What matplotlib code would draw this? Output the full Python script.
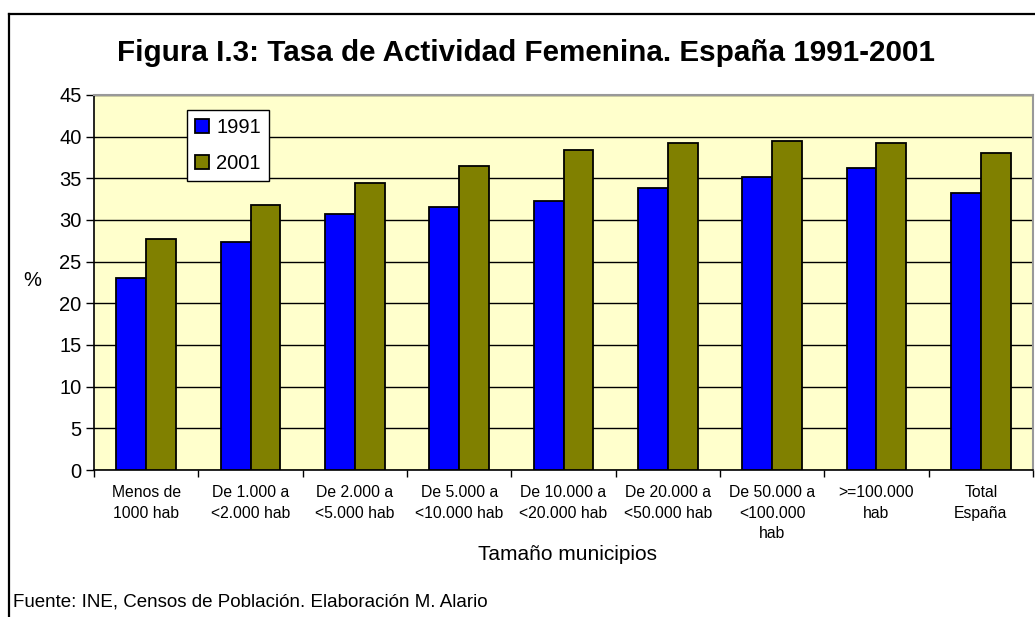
import matplotlib
matplotlib.use("Agg")
import matplotlib.pyplot as plt
import numpy as np
from matplotlib.lines import Line2D

plt.rcParams['font.family'] = ['Liberation Sans', 'DejaVu Sans']

categories = ["Menos de\n1000 hab", "De 1.000 a\n<2.000 hab", "De 2.000 a\n<5.000 hab",
              "De 5.000 a\n<10.000 hab", "De 10.000 a\n<20.000 hab", "De 20.000 a\n<50.000 hab",
              "De 50.000 a\n<100.000\nhab", ">=100.000\nhab", "Total\nEspaña"]
values_1991 = [23.0, 27.3, 30.7, 31.6, 32.3, 33.9, 35.2, 36.2, 33.2]
values_2001 = [27.7, 31.8, 34.5, 36.5, 38.4, 39.3, 39.5, 39.3, 38.0]
series_labels = ["1991", "2001"]
yticks = [0, 5, 10, 15, 20, 25, 30, 35, 40, 45]

W, H = 1035, 617
fig = plt.figure(figsize=(W / 100, H / 100), dpi=100)
fig.patch.set_facecolor("white")
ax = fig.add_axes([94 / W, 1 - 470 / H, (1033 - 94) / W, (470 - 95) / H])
ax.set_facecolor("#FFFFCC")

x = np.arange(len(categories))
bw = 2 / 3.5 / 2
ax.bar(x - bw / 2, values_1991, bw, color="#0000FF", edgecolor="black", linewidth=1.3,
       label=series_labels[0], zorder=3)
ax.bar(x + bw / 2, values_2001, bw, color="#808000", edgecolor="black", linewidth=1.3,
       label=series_labels[1], zorder=3)

ax.set_xlim(-0.5, len(categories) - 0.5)
ax.set_ylim(0, 45)
ax.set_yticks(yticks)
ax.set_yticklabels([str(v) for v in yticks], fontsize=14.5)
ax.yaxis.grid(True, color="black", linewidth=1.0, zorder=0)
ax.set_axisbelow(True)

ax.set_xticks(x)
ax.set_xticklabels(categories, fontsize=11.3, linespacing=1.45)
ax.tick_params(axis="x", which="major", length=0, pad=11)
ax.set_xticks(np.arange(len(categories) + 1) - 0.5, minor=True)
ax.tick_params(axis="x", which="minor", length=5, width=1, direction="out")
ax.tick_params(axis="y", length=6, width=1, direction="out", pad=3)

for side in ["top", "right"]:
    ax.spines[side].set_color("#999999")
    ax.spines[side].set_linewidth(1.5)
ax.spines["left"].set_color("black")
ax.spines["bottom"].set_color("black")
ax.spines["bottom"].set_linewidth(1.2)
ax.spines["left"].set_linewidth(1.2)

fig.text(526 / W, 1 - 53 / H, "Figura I.3: Tasa de Actividad Femenina. España 1991-2001",
         fontsize=21.3, fontweight="bold", ha="center", va="center")
fig.text(32 / W, 1 - 280 / H, "%", fontsize=14.5, ha="center", va="center")
fig.text(568 / W, 1 - 554 / H, "Tamaño municipios", fontsize=15, ha="center", va="center")
fig.text(13 / W, 1 - 602 / H, "Fuente: INE, Censos de Población. Elaboración M. Alario",
         fontsize=13.5, ha="left", va="center")

leg = ax.legend(loc="upper left", bbox_to_anchor=(187 / W, 1 - 110 / H),
                bbox_transform=fig.transFigure, fontsize=14.5, frameon=True, fancybox=False,
                edgecolor="black", framealpha=1, handlelength=0.7, handleheight=0.7,
                handletextpad=0.35, labelspacing=0.85, borderpad=0.4, borderaxespad=0)
leg.get_frame().set_linewidth(1.0)

fig.add_artist(Line2D([9 / W, 1.0], [1 - 14 / H, 1 - 14 / H], color="black", linewidth=1.6,
                      transform=fig.transFigure))
fig.add_artist(Line2D([9 / W, 9 / W], [0, 1 - 14 / H], color="black", linewidth=1.6,
                      transform=fig.transFigure))

fig.savefig("out.png", dpi=100)
